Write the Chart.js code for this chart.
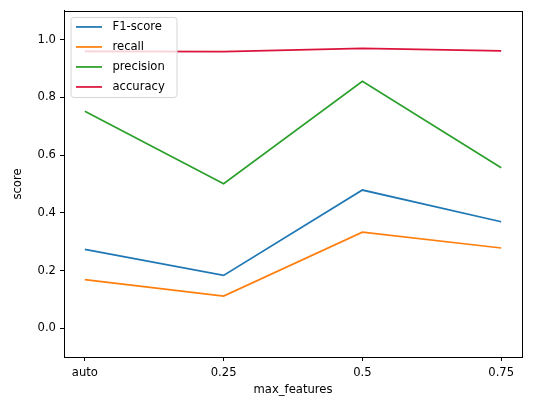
<!DOCTYPE html>
<html>
<head>
<meta charset="utf-8">
<script src="https://cdn.jsdelivr.net/npm/chart.js@4"></script>
<style>
    body {margin: 0; background: #fff;}
    #chart {display: block;}
</style>
</head>
<body>
<canvas id="chart" width="533" height="401"></canvas>
<script>
const categories = ['auto', '0.25', '0.5', '0.75'];
const f1Score = [0.273, 0.183, 0.479, 0.369];
const recall = [0.168, 0.111, 0.333, 0.278];
const precision = [0.752, 0.501, 0.856, 0.556];
const accuracy = [0.960, 0.959, 0.970, 0.962];
const yTicks = [0.0, 0.2, 0.4, 0.6, 0.8, 1.0];

const FONT = 'DejaVu Sans';
const FS = 11.6;

function toPoints(vals) {
    return vals.map((v, i) => ({x: i, y: v}));
}

// matplotlib style: full frame + legend box inside upper left
const framePlugin = {
    id: 'frame',
    afterDatasetsDraw(chart) {
        const c = chart.ctx, a = chart.chartArea;
        c.save();
        c.strokeStyle = '#000';
        c.lineWidth = 1;
        c.strokeRect(Math.round(a.left) + 0.5, Math.round(a.top) + 0.5, Math.round(a.right - a.left), Math.round(a.bottom - a.top));

        // legend
        const x0 = a.left + 7, y0 = a.top + 6.5, w = 106, h = 80;
        c.beginPath();
        c.roundRect(x0, y0, w, h, 3);
        c.fillStyle = 'rgba(255,255,255,0.8)';
        c.fill();
        c.strokeStyle = '#d6d6d6';
        c.lineWidth = 1;
        c.stroke();
        c.font = FS + 'px ' + FONT;
        c.textBaseline = 'middle';
        chart.data.datasets.forEach((ds, i) => {
            const y = y0 + 9.5 + i * 20;
            c.beginPath();
            c.moveTo(x0 + 5, y);
            c.lineTo(x0 + 31, y);
            c.strokeStyle = ds.borderColor;
            c.lineWidth = 1.75;
            c.stroke();
            c.fillStyle = '#000';
            c.fillText(ds.label, x0 + 41.5, y);
        });
        c.restore();
    }
};

new Chart(document.getElementById('chart'), {
    type: 'line',
    data: {
        datasets: [
            {label: 'F1-score', data: toPoints(f1Score), borderColor: '#1f77b4'},
            {label: 'recall', data: toPoints(recall), borderColor: '#ff7f0e'},
            {label: 'precision', data: toPoints(precision), borderColor: '#2ca02c'},
            {label: 'accuracy', data: toPoints(accuracy), borderColor: '#dc143c'}
        ]
    },
    options: {
        responsive: false,
        animation: false,
        devicePixelRatio: 1,
        layout: {padding: {top: 10, right: 11, left: 0, bottom: 0}},
        elements: {
            line: {borderWidth: 1.75, tension: 0, fill: false},
            point: {radius: 0, hoverRadius: 0}
        },
        plugins: {legend: {display: false}, tooltip: {enabled: false}},
        scales: {
            x: {
                type: 'linear',
                min: -0.15, max: 3.15,
                afterBuildTicks: s => { s.ticks = categories.map((c, i) => ({value: i})); },
                afterFit: s => { s.height = 44; },
                ticks: {
                    callback: v => categories[v],
                    font: {family: FONT, size: FS},
                    color: '#000',
                    padding: 5,
                    maxRotation: 0
                },
                grid: {drawOnChartArea: false, drawTicks: true, tickLength: 4, color: '#000'},
                border: {display: true, color: '#000', width: 1},
                title: {display: true, text: 'max_features', font: {family: FONT, size: FS}, color: '#000', padding: {top: 0, bottom: 4}}
            },
            y: {
                min: -0.1, max: 1.1,
                afterBuildTicks: s => { s.ticks = yTicks.map(v => ({value: v})); },
                afterFit: s => { s.width = 64; },
                ticks: {
                    callback: v => v.toFixed(1),
                    font: {family: FONT, size: FS},
                    color: '#000',
                    padding: 4
                },
                grid: {drawOnChartArea: false, drawTicks: true, tickLength: 4, color: '#000'},
                border: {display: true, color: '#000', width: 1},
                title: {display: true, text: 'score', font: {family: FONT, size: FS}, color: '#000', padding: {top: 11, bottom: 4}}
            }
        }
    },
    plugins: [framePlugin]
});
</script>
</body>
</html>
